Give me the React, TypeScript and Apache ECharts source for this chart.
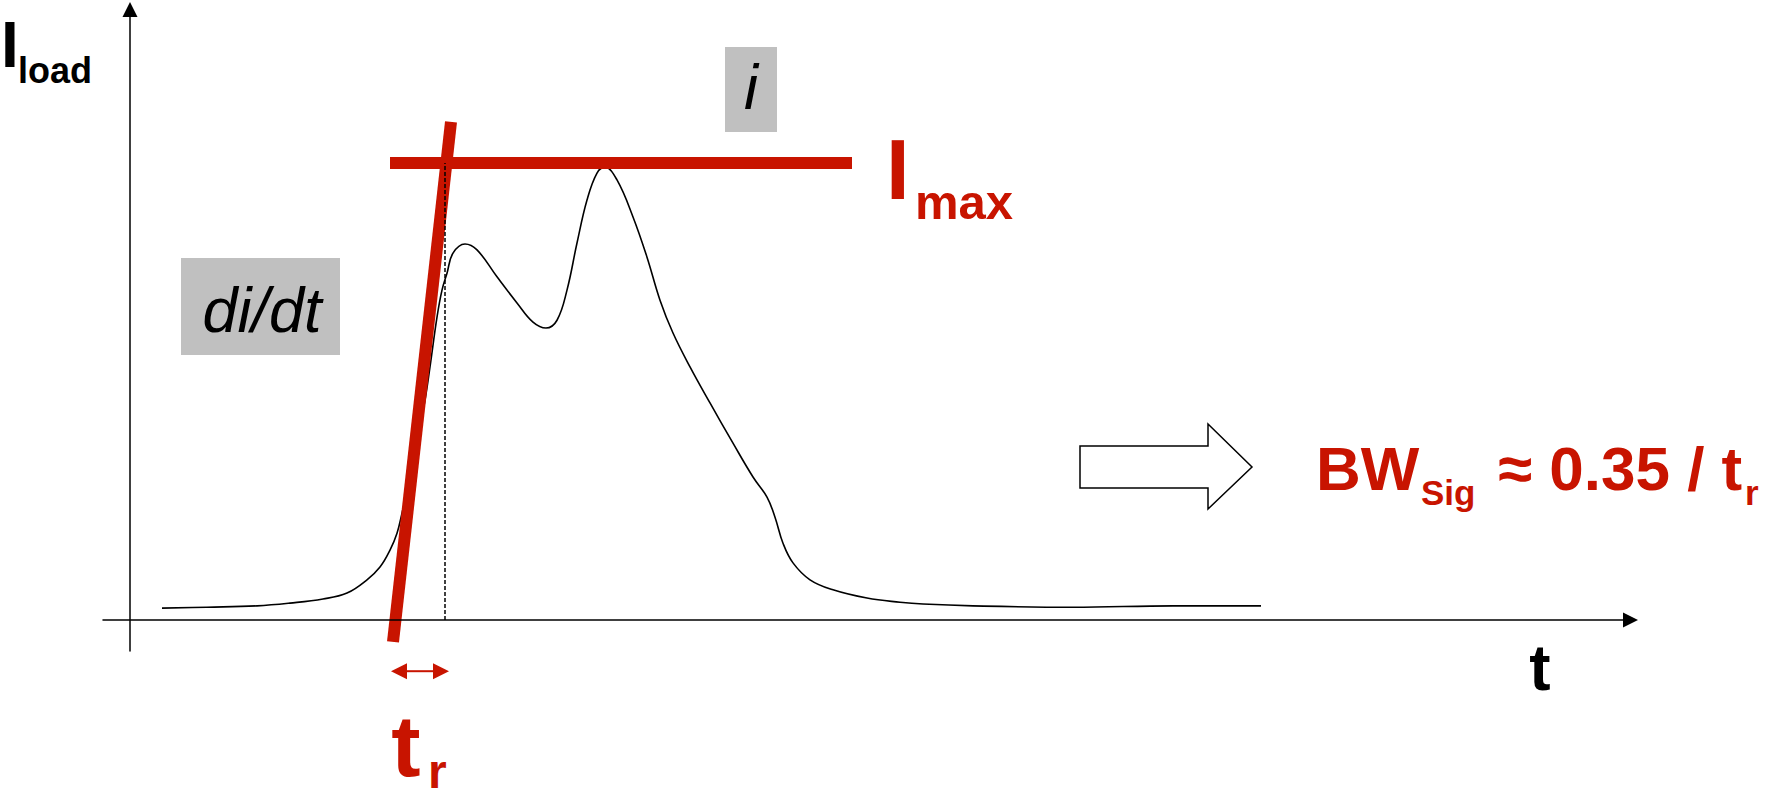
import { useEffect, useRef } from "react";
import * as echarts from "echarts";

// ---- data (time units, current in % of Imax) ----
const loadT = [3.2, 7.7, 12.7, 16.0, 19.3, 21.7, 23.7, 25.0, 26.0, 26.7, 27.2, 28.0, 28.8, 29.5, 30.0, 30.7, 31.2, 31.7, 32.3, 33.5, 34.7, 36.7, 38.7, 40.3, 41.6, 42.7, 43.7, 44.7, 45.7, 46.7, 47.5, 48.7, 50.3, 51.7, 53.0, 54.3, 56.0, 58.0, 60.3, 62.3, 63.7, 64.5, 65.3, 66.3, 68.0, 70.3, 73.7, 77.0, 79.3, 84.3, 94.3, 104.3, 113.1];
const loadI = [2.6, 2.8, 3.1, 3.7, 4.6, 5.9, 8.8, 11.6, 15.3, 19.0, 23.4, 31.3, 40.0, 48.1, 55.4, 66.3, 72.2, 75.9, 80.3, 82.3, 81.0, 75.1, 69.4, 65.2, 63.9, 65.6, 72.2, 82.5, 91.9, 97.8, 99.1, 96.3, 88.2, 79.4, 70.0, 62.8, 55.4, 47.5, 38.7, 31.3, 26.9, 22.5, 16.8, 12.5, 8.8, 6.6, 4.8, 3.9, 3.5, 3.1, 2.8, 3.1, 3.1];
const tangentT = [26.3, 32.1];
const tangentI = [-4.8, 109.0];
const imaxT = [26.0, 72.2];
const imaxLevel = 100;
const riseEndT = 31.5;
const trSpan = [26.1, 31.9];
const trLevel = -11.2;

const X_MIN = -2.7;
const X_MAX = 150.05;
const Y_MIN = -6.78;
const Y_MAX = 133.6;

const RED = "#C81400";
const GRAY = "#C0C0C0";
const FONT = '"Liberation Sans", Arial, sans-serif';

function txt(text: string, x: number, baseline: number, size: number, opts: any = {}) {
  const align = opts.align || "left";
  return {
    type: "text",
    z: 100,
    x,
    y: baseline - 0.3465 * size,
    style: {
      text,
      fill: opts.fill || "#000",
      font: `${opts.style || "normal"} ${opts.weight || "bold"} ${size}px ${FONT}`,
      align,
      verticalAlign: "middle",
      textAlign: align,
      textVerticalAlign: "middle",
    },
  };
}

export default function App() {
  const ref = useRef<HTMLDivElement>(null);
  useEffect(() => {
    document.body.style.margin = "0";
    if (!ref.current) return;
    const chart = echarts.init(ref.current, undefined, { renderer: "svg" });
    const pairs = (xs: number[], ys: number[]) => xs.map((x, i) => [x, ys[i]]);
    chart.setOption({
      animation: false,
      backgroundColor: "#fff",
      grid: { left: 103, top: 9.5, right: 138.5, bottom: 148, containLabel: false },
      xAxis: {
        type: "value",
        min: X_MIN,
        max: X_MAX,
        z: 10,
        axisLine: {
          onZero: true,
          symbol: ["none", "triangle"],
          symbolSize: [15, 15],
          lineStyle: { color: "#000", width: 1.5 },
        },
        axisTick: { show: false },
        axisLabel: { show: false },
        splitLine: { show: false },
      },
      yAxis: {
        type: "value",
        min: Y_MIN,
        max: Y_MAX,
        z: 10,
        axisLine: {
          onZero: true,
          symbol: ["none", "triangle"],
          symbolSize: [15, 15],
          lineStyle: { color: "#000", width: 1.5 },
        },
        axisTick: { show: false },
        axisLabel: { show: false },
        splitLine: { show: false },
      },
      series: [
        {
          type: "line",
          data: pairs(loadT, loadI),
          smooth: 0.4,
          showSymbol: false,
          silent: true,
          z: 2,
          lineStyle: { color: "#000", width: 1.6 },
        },
        {
          type: "line",
          data: pairs(tangentT, tangentI),
          showSymbol: false,
          silent: true,
          z: 3,
          lineStyle: { color: RED, width: 12, cap: "butt" },
        },
        {
          type: "line",
          data: imaxT.map((t) => [t, imaxLevel]),
          showSymbol: false,
          silent: true,
          z: 3,
          lineStyle: { color: RED, width: 12, cap: "butt" },
        },
        {
          type: "line",
          data: [
            [riseEndT, 0],
            [riseEndT, imaxLevel],
          ],
          showSymbol: false,
          silent: true,
          z: 4,
          lineStyle: { color: "#000", width: 1.5, type: [4, 2] },
        },
      ],
    });

    const p = (x: number, y: number) => chart.convertToPixel({ gridIndex: 0 }, [x, y]) as number[];
    const a = p(trSpan[0], trLevel);
    const b = p(trSpan[1], trLevel);
    const head = 16;
    const hh = 8;

    chart.setOption({
      graphic: [
        // t_r double arrow
        { type: "line", z: 100, shape: { x1: a[0] + head - 1, y1: a[1], x2: b[0] - head + 1, y2: b[1] }, style: { stroke: RED, lineWidth: 2 } },
        { type: "polygon", z: 100, shape: { points: [[a[0], a[1]], [a[0] + head, a[1] - hh], [a[0] + head, a[1] + hh]] }, style: { fill: RED } },
        { type: "polygon", z: 100, shape: { points: [[b[0], b[1]], [b[0] - head, b[1] - hh], [b[0] - head, b[1] + hh]] }, style: { fill: RED } },
        // gray boxes
        { type: "rect", z: 90, shape: { x: 181, y: 258, width: 159, height: 97 }, style: { fill: GRAY } },
        { type: "rect", z: 90, shape: { x: 725, y: 47, width: 52, height: 85 }, style: { fill: GRAY } },
        txt("di/dt", 262, 332, 63, { style: "italic", weight: "normal", align: "center" }),
        txt("i", 751, 109, 63, { style: "italic", weight: "normal", align: "center" }),
        // hollow block arrow
        {
          type: "polygon",
          z: 100,
          shape: { points: [[1080, 446], [1208, 446], [1208, 424], [1252, 467], [1208, 509], [1208, 488], [1080, 488]] },
          style: { fill: "#fff", stroke: "#000", lineWidth: 1.5 },
        },
        // axis titles
        txt("I", 1, 67, 64),
        txt("load", 18, 83, 36),
        txt("t", 1540, 690, 64, { align: "center" }),
        // Imax label
        txt("I", 886, 199, 85, { fill: RED }),
        txt("max", 915, 219, 49, { fill: RED }),
        // t_r label
        txt("t", 406, 776, 88, { fill: RED, align: "center" }),
        txt("r", 428, 788, 48, { fill: RED }),
        // bandwidth formula
        txt("BW", 1316, 490, 62, { fill: RED }),
        txt("Sig", 1421, 505, 35, { fill: RED }),
        txt("\u2248 0.35 / t", 1498, 490, 62, { fill: RED }),
        txt("r", 1745, 505, 35, { fill: RED }),
      ],
    });

    return () => chart.dispose();
  }, []);
  return <div ref={ref} style={{ position: "absolute", left: 0, top: 0, width: 1769, height: 799 }} />;
}
